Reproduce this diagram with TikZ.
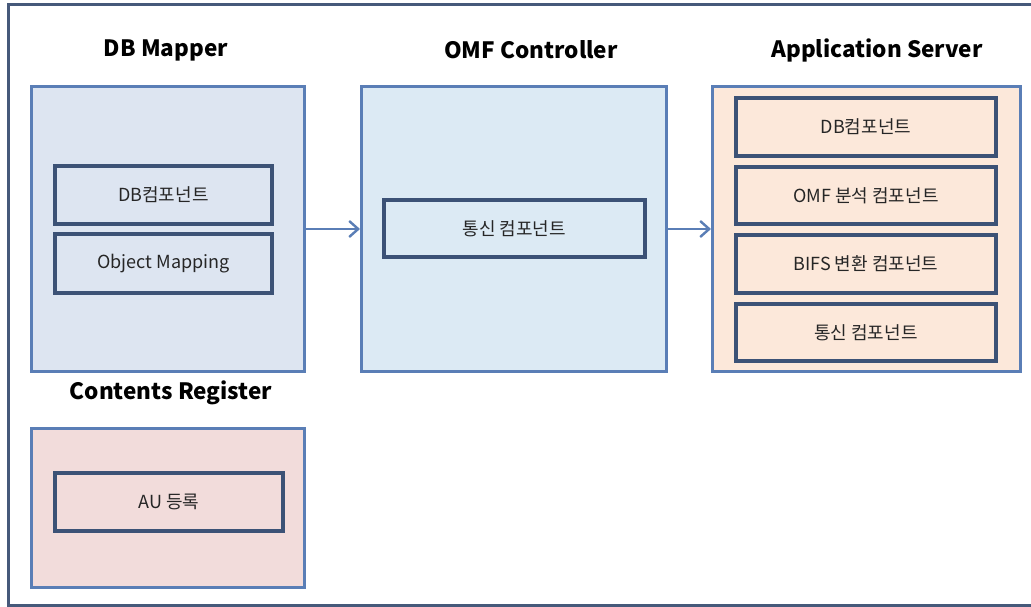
\documentclass[tikz,border=0pt]{standalone}
\usepackage{fontspec}
\setmainfont{Noto Sans CJK KR}
\usetikzlibrary{arrows.meta}
\definecolor{frame}{HTML}{46597A}
\definecolor{outerbd}{HTML}{5A7EB6}
\definecolor{innerbd}{HTML}{3C5276}
\definecolor{fillA}{HTML}{DDE5F1}
\definecolor{fillB}{HTML}{DCEAF4}
\definecolor{fillC}{HTML}{FCE8DA}
\definecolor{fillD}{HTML}{F2DCDB}
\definecolor{arr}{HTML}{5A7EB6}
\tikzset{
  group/.style={draw=outerbd, line width=3.2pt, anchor=north west, inner sep=0pt},
  comp/.style={draw=innerbd, line width=3.8pt, anchor=north west, inner sep=0pt},
  lbl/.style={font=\fontsize{18}{21}\selectfont, text=black!85},
  title/.style={font=\fontsize{22.5}{26}\selectfont\bfseries, text=black},
  conn/.style={draw=arr, line width=2.4pt, -{Straight Barb[length=9pt,width=16pt,line width=2.4pt]}}
}
\begin{document}
\begin{tikzpicture}[x=1pt,y=-1pt]
\useasboundingbox (0,0) rectangle (1031,607);
\fill[white] (0,0) rectangle (1031,607);
% outer frame (open on right)
\draw[frame, line width=3pt] (1035,5) -- (8,5) -- (8,605) -- (1035,605);
% groups
\node[group, fill=fillA, minimum width=273pt, minimum height=285pt] (dbm) at (30,85) {};
\node[group, fill=fillB, minimum width=305pt, minimum height=285pt] (omf) at (360,85) {};
\node[group, fill=fillC, minimum width=308pt, minimum height=285pt] (app) at (711,85) {};
\node[group, fill=fillD, minimum width=273pt, minimum height=159pt] (cr) at (30,427) {};
% titles
\node[title] (tdbm) at (166,50) {DB Mapper};
\node[title] (tomf) at (531,50) {OMF Controller};
\node[title] (tapp) at (877,50) {Application Server};
\node[title] (tcr) at (171,393) {Contents Register};
% components
\node[comp, fill=fillA, minimum width=217pt, minimum height=58pt] (c1) at (53,164) {};
\node[lbl] at (c1.center) {DB컴포넌트};
\node[comp, fill=fillA, minimum width=217pt, minimum height=59pt] (c2) at (53,232) {};
\node[lbl] at (c2.center) {Object Mapping};
\node[comp, fill=fillB, minimum width=261pt, minimum height=57pt] (c3) at (382,198) {};
\node[lbl] at (c3.center) {통신 컴포넌트};
\node[comp, fill=fillC, minimum width=260pt, minimum height=58pt] (a1) at (734,96) {};
\node[lbl] at (a1.center) {DB컴포넌트};
\node[comp, fill=fillC, minimum width=260pt, minimum height=57pt] (a2) at (734,165) {};
\node[lbl] at (a2.center) {OMF 분석 컴포넌트};
\node[comp, fill=fillC, minimum width=260pt, minimum height=58pt] (a3) at (734,233) {};
\node[lbl] at (a3.center) {BIFS 변환 컴포넌트};
\node[comp, fill=fillC, minimum width=260pt, minimum height=57pt] (a4) at (734,302) {};
\node[lbl] at (a4.center) {통신 컴포넌트};
\node[comp, fill=fillD, minimum width=228pt, minimum height=58pt] (r1) at (53,471) {};
\node[lbl] at (r1.center) {AU 등록};
% connectors
\draw[conn] (dbm.east |- 0,229) -- (omf.west |- 0,229);
\draw[conn] (omf.east |- 0,229) -- (app.west |- 0,229);
\end{tikzpicture}
\end{document}
